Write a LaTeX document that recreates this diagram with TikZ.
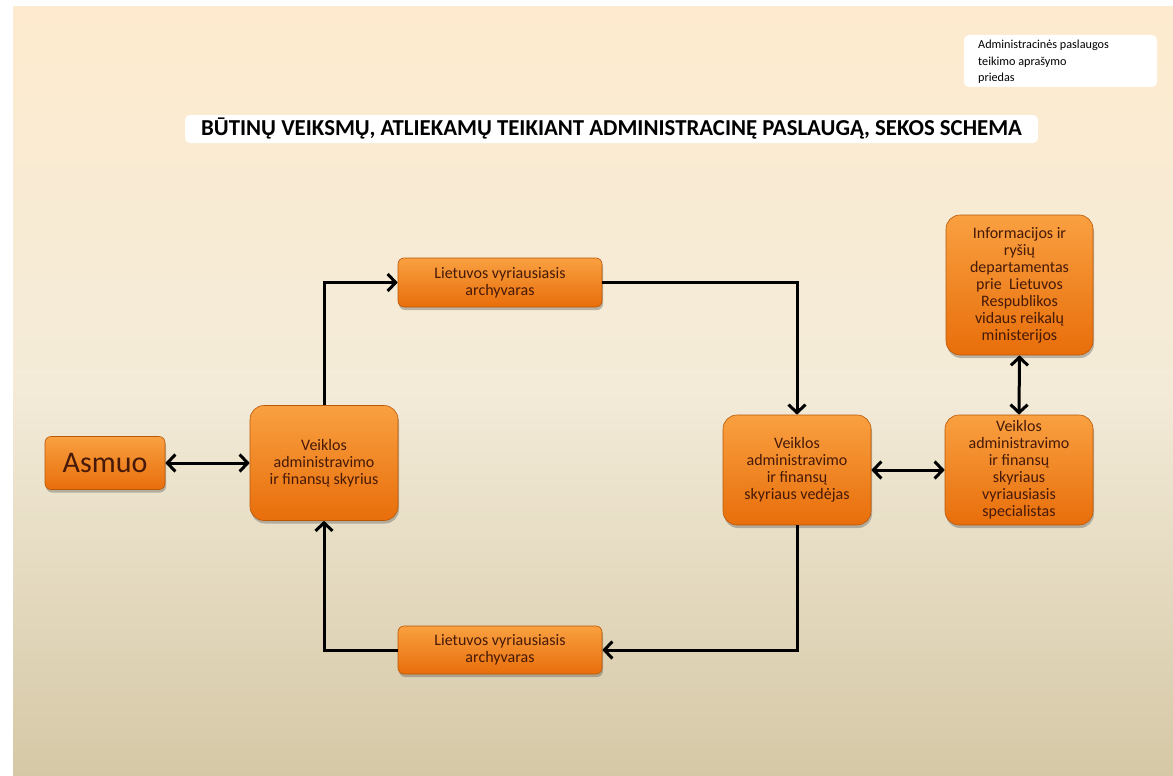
\documentclass[tikz,border=0pt]{standalone}
\usepackage{fontspec}
\setmainfont{Carlito}
\usetikzlibrary{arrows.meta,shadows}
\definecolor{bgtop}{RGB}{254,235,207}
\definecolor{bgmid}{RGB}{243,235,216}
\definecolor{bgbot}{RGB}{213,200,166}
\definecolor{ortop}{RGB}{249,160,65}
\definecolor{orbot}{RGB}{232,110,10}
\definecolor{ortext}{RGB}{70,25,8}
\tikzset{
  box/.style={draw=orbot!80!black, line width=0.6pt, top color=ortop, bottom color=orbot,
    rounded corners=14pt, align=center, text=ortext, inner sep=0pt,
    font=\fontsize{16}{17}\selectfont,
    drop shadow={shadow xshift=1pt, shadow yshift=-3pt, opacity=0.35, fill=black!70}},
  smallbox/.style={box, rounded corners=6pt},
  conn/.style={line width=3pt, -{Straight Barb[length=8pt,width=17pt,line width=3pt]}},
  bconn/.style={line width=3pt, {Straight Barb[length=8pt,width=17pt,line width=3pt]}-{Straight Barb[length=8pt,width=17pt,line width=3pt]}},
  label box/.style={fill=white, rounded corners=5pt, inner sep=0pt}
}
\begin{document}
\begin{tikzpicture}[x=1pt,y=-1pt]
\useasboundingbox (0,0) rectangle (1173,776);
\fill[white] (0,0) rectangle (1173,776);
\shade[top color=bgtop, bottom color=bgbot, middle color=bgmid] (13,7) rectangle (1173,776);

% annotation
\node[label box, minimum width=193pt, minimum height=52pt] (ann) at (1060.5,61) {};
\node[anchor=north west, align=left, font=\fontsize{12.2}{16.5}\selectfont, inner sep=0pt] (anntext) at (978,40)
  {Administracinės paslaugos\\teikimo aprašymo\\priedas};

% title
\node[label box, minimum width=853pt, minimum height=28pt, font=\bfseries\fontsize{22.8}{24}\selectfont] (title) at (611.5,129)
  {BŪTINŲ VEIKSMŲ, ATLIEKAMŲ TEIKIANT ADMINISTRACINĘ PASLAUGĄ, SEKOS SCHEMA};

% nodes
\node[smallbox, minimum width=120pt, minimum height=53pt, font=\fontsize{30}{32}\selectfont] (asmuo) at (105,463) {Asmuo};
\node[box, minimum width=148pt, minimum height=115pt] (vafs) at (324,463) {Veiklos\\administravimo\\ir finansų skyrius};
\node[smallbox, minimum width=204pt, minimum height=49pt] (arch1) at (500,282.5) {Lietuvos vyriausiasis\\archyvaras};
\node[smallbox, minimum width=204pt, minimum height=48pt] (arch2) at (500,650) {Lietuvos vyriausiasis\\archyvaras};
\node[box, minimum width=148pt, minimum height=110pt] (ved) at (797,470) {Veiklos\\administravimo\\ir finansų\\skyriaus vedėjas};
\node[box, minimum width=148pt, minimum height=110pt] (spec) at (1019,470) {Veiklos\\administravimo\\ir finansų\\skyriaus\\vyriausiasis\\specialistas};
\node[box, minimum width=147pt, minimum height=140pt] (info) at (1019.5,285) {Informacijos ir\\ryšių\\departamentas\\prie~ Lietuvos\\Respublikos\\vidaus reikalų\\ministerijos};

% connectors
\draw[bconn] (asmuo.east) -- (vafs.west);
\draw[conn] (vafs.north) -- (vafs.north |- arch1.west) -- (arch1.west);
\draw[conn] (arch1.east) -- (ved.north |- arch1.east) -- (ved.north);
\draw[conn] (ved.south) -- (ved.south |- arch2.east) -- (arch2.east);
\draw[conn] (arch2.west) -- (vafs.south |- arch2.west) -- (vafs.south);
\draw[bconn] (ved.east) -- (spec.west);
\draw[bconn] (info.south) -- (spec.north);
\end{tikzpicture}
\end{document}
